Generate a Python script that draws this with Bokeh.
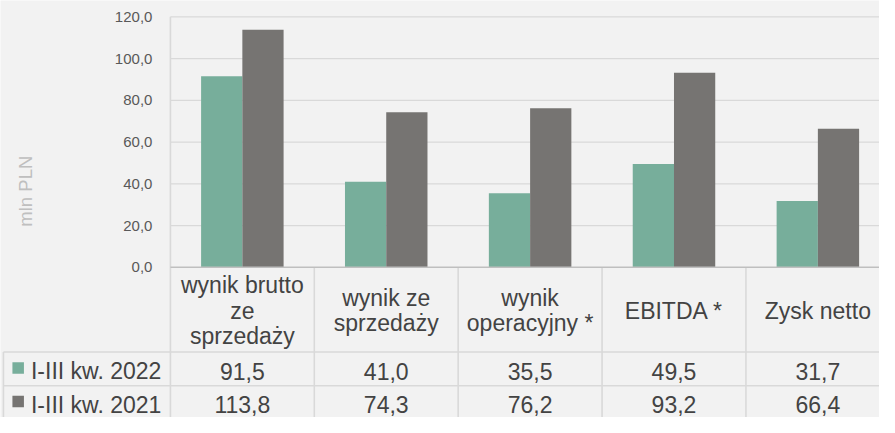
import math
from bokeh.plotting import figure
from bokeh.models import Range1d, LinearAxis, FixedTicker, CustomJSTickFormatter
from bokeh.core.properties import value
from bokeh.embed import file_html
from bokeh.resources import INLINE

# ---------------- data ----------------
categories = ["wynik brutto\nze\nsprzedaży", "wynik ze\nsprzedaży", "wynik\noperacyjny *", "EBITDA *", "Zysk netto"]
series_names = ["I-III kw. 2022", "I-III kw. 2021"]
values_2022 = [91.5, 41.0, 35.5, 49.5, 31.7]
values_2021 = [113.8, 74.3, 76.2, 93.2, 66.4]
y_ticks = [0, 20, 40, 60, 80, 100, 120]
axis_title = "mln PLN"

# ---------------- style ----------------
COLORS = ["#77ae9b", "#767472"]
BG = "#f2f2f2"
GRID = "#d9d9d9"
ZERO = "#bfbfbf"
TEXT = "#434343"
TICK = "#595959"
FONT = "Liberation Sans"
TABLE_FS = "23px"

W, H = 879, 417
REF_W, REF_H = 895, 433
CAT_LEFT, CAT_W = 173.0, 146.5
Y0_REF, PX_PER_UNIT_REF = 277.0, 260.0 / 120.0


def xd(px):
    return (px - CAT_LEFT) / CAT_W


def yd(py):
    return (Y0_REF - py) / PX_PER_UNIT_REF


def fmt(v):
    return f"{v:.1f}".replace(".", ",")


x_end = xd(REF_W)
y_bottom = yd(REF_H)
n = len(categories)

p = figure(width=W, height=H,
           x_range=Range1d(xd(0), x_end), y_range=Range1d(y_bottom, yd(0)),
           output_backend="svg", toolbar_location=None,
           x_axis_location=None, y_axis_location=None,
           min_border=0, min_border_left=0, min_border_right=0,
           min_border_top=0, min_border_bottom=0,
           background_fill_color=BG, border_fill_color=BG,
           outline_line_color=None)
p.grid.visible = False

# y axis placed at the start of the category area
yaxis = LinearAxis(fixed_location=0, bounds=(min(y_ticks), max(y_ticks)),
                   ticker=FixedTicker(ticks=y_ticks),
                   formatter=CustomJSTickFormatter(code="return tick.toFixed(1).replace('.', ',');"),
                   axis_line_color=None, major_tick_line_color=None, minor_tick_line_color=None,
                   major_label_text_font=FONT, major_label_text_font_size="15px",
                   major_label_text_color=TICK, major_label_standoff=12)
p.add_layout(yaxis, "left")

# gridlines
grid_ticks = [t for t in y_ticks if t > 0]
p.segment(x0=[0] * len(grid_ticks), y0=grid_ticks, x1=[x_end] * len(grid_ticks), y1=grid_ticks,
          line_color=GRID, line_width=1.3)

# table lines
row_top, row_mid = yd(365), yd(400)
vx = list(range(n + 1))
vy0 = [max(y_ticks)] + [0] * n
p.segment(x0=vx, y0=vy0, x1=vx, y1=[y_bottom] * len(vx), line_color=GRID, line_width=1.6)
p.segment(x0=[xd(3)], y0=[row_top], x1=[xd(3)], y1=[y_bottom], line_color=GRID, line_width=1.6)
p.segment(x0=[xd(3), xd(3)], y0=[row_top, row_mid], x1=[x_end, x_end], y1=[row_top, row_mid],
          line_color=GRID, line_width=1.6)

# bars
bw = 42.0 / CAT_W
centers = [i + 0.5 for i in range(n)]
p.vbar(x=[c - bw / 2 for c in centers], top=values_2022, bottom=0, width=bw,
       fill_color=COLORS[0], line_color=None)
p.vbar(x=[c + bw / 2 for c in centers], top=values_2021, bottom=0, width=bw,
       fill_color=COLORS[1], line_color=None)

# zero line
p.segment(x0=[0], y0=[0], x1=[x_end], y1=[0], line_color=ZERO, line_width=1.6)

# category header text (multi-line, centred in header cell)
hx, hy, ht = [], [], []
for i, cat in enumerate(categories):
    lines = cat.split("\n")
    k = len(lines)
    for j, line in enumerate(lines):
        hx.append(centers[i])
        hy.append(yd(322 + (j - (k - 1) / 2) * 26.5))
        ht.append(line)
p.text(x=hx, y=hy, text=ht, text_align="center", text_baseline="middle",
       text_font=value(FONT), text_font_size=value(TABLE_FS), text_color=TEXT)

# value rows
row_y = [yd(385), yd(420)]
for r, vals in enumerate([values_2022, values_2021]):
    p.text(x=centers, y=[row_y[r]] * n, text=[fmt(v) for v in vals],
           text_align="center", text_baseline="middle",
           text_font=value(FONT), text_font_size=value(TABLE_FS), text_color=TEXT)

# legend keys inside the table
key_y = [yd(381.5), yd(416.5)]
p.scatter(x=[xd(18)] * 2, y=key_y, marker="square", size=11.5, fill_color=COLORS, line_color=None)
p.text(x=[xd(31)] * 2, y=row_y, text=series_names, text_align="left", text_baseline="middle",
       text_font=value(FONT), text_font_size=value(TABLE_FS), text_color=TEXT)

# axis title
p.text(x=[xd(25.5)], y=[yd(198)], text=[axis_title], angle=math.pi / 2,
       text_align="center", text_baseline="middle",
       text_font=value(FONT), text_font_size=value("18.5px"), text_color="#bfbfbf")

open("out.html", "w").write(file_html(p, INLINE))
